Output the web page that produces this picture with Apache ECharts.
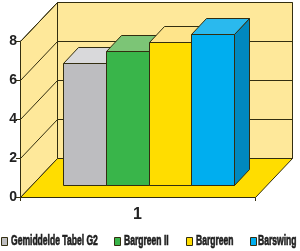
<!DOCTYPE html>
<html><head><meta charset="utf-8">
<script src="https://cdn.jsdelivr.net/npm/echarts@6/dist/echarts.min.js"></script>
<style>html,body{margin:0;padding:0;background:#fff}#c{width:300px;height:251px}</style>
</head><body><div id="c"></div>
<script>
const categories = ['1'];
const seriesNames = ['Gemiddelde Tabel G2', 'Bargreen II', 'Bargreen', 'Barswing'];
const gemiddeldeTabelG2 = [6.25];
const bargreenII = [6.85];
const bargreen = [7.3];
const barswing = [7.7];
const yTickValues = [0, 2, 4, 6, 8];

const seriesValues = [gemiddeldeTabelG2, bargreenII, bargreen, barswing];
const frontColors = ['#bdbdc0', '#39b54a', '#ffdd00', '#00aeef'];
const topColors = ['#d9d9db', '#7cc576', '#fee48a', '#2ab9ee'];
const sideColors = ['#a0a0a3', '#23904a', '#e0b800', '#0088bf'];
const edge = '#332e10';
const wallColor = '#fee89a';
const floorColor = '#ffdd00';
const DX = 37, DY = -39;       // full depth
const FX = 11.5, FY = -12;     // bar front plane
const BX = 15, BY = -16;       // bar depth
const BAR_FRAC = 0.182;

function p(v) { return Math.round(v - 0.5) + 0.5; }
function pt(x, y) { return [p(x), p(y)]; }

const chart = echarts.init(document.getElementById('c'), null, {renderer: 'canvas'});

function wallsRender(params, api) {
  const cs = params.coordSys;
  const x0 = cs.x, x1 = cs.x + cs.width;
  const yb = api.coord([categories[0], 0])[1];
  const yt = api.coord([categories[0], yTickValues[yTickValues.length - 1]])[1];
  const st = {stroke: edge, lineWidth: 1};
  const children = [
    {type: 'polygon', shape: {points: [pt(x0, yb), pt(x0 + DX, yb + DY), pt(x0 + DX, yt + DY), pt(x0, yt)]}, style: Object.assign({fill: wallColor}, st)},
    {type: 'polygon', shape: {points: [pt(x0 + DX, yt + DY), pt(x1 + DX, yt + DY), pt(x1 + DX, yb + DY), pt(x0 + DX, yb + DY)]}, style: Object.assign({fill: wallColor}, st)},
    {type: 'polygon', shape: {points: [pt(x0, yb), pt(x0 + DX, yb + DY), pt(x1 + DX, yb + DY), pt(x1, yb)]}, style: Object.assign({fill: floorColor}, st)}
  ];
  yTickValues.forEach(function (t) {
    if (t === 0) return;
    const y = api.coord([categories[0], t])[1];
    children.push({type: 'line', shape: {x1: p(x0), y1: p(y), x2: p(x0 + DX), y2: p(y + DY)}, style: st});
    children.push({type: 'line', shape: {x1: p(x0 + DX), y1: p(y + DY), x2: p(x1 + DX), y2: p(y + DY)}, style: st});
  });
  return {type: 'group', children: children};
}

function barRender(idx) {
  return function (params, api) {
    const base = api.coord([api.value(0), 0]);
    const top = api.coord([api.value(0), api.value(1)]);
    const band = api.size([1, 0])[0];
    const w = band * BAR_FRAC;
    const left = p(base[0] - 2 * w + idx * w + FX);
    const right = p(base[0] - 2 * w + (idx + 1) * w + FX);
    const yb = p(base[1] + FY), yt = p(top[1] + FY);
    const st = {stroke: edge, lineWidth: 1};
    return {type: 'group', children: [
      {type: 'polygon', shape: {points: [[right, yt], [right + BX, yt + BY], [right + BX, yb + BY], [right, yb]]}, style: Object.assign({fill: sideColors[idx]}, st)},
      {type: 'polygon', shape: {points: [[left, yt], [left + BX, yt + BY], [right + BX, yt + BY], [right, yt]]}, style: Object.assign({fill: topColors[idx]}, st)},
      {type: 'polygon', shape: {points: [[left, yt], [right, yt], [right, yb], [left, yb]]}, style: Object.assign({fill: frontColors[idx]}, st)}
    ]};
  };
}

const FONT = "'Liberation Sans', Arial, sans-serif";
const legendSwatchX = [1, 114, 186, 250];
const legendTextX = [11, 124, 196, 258];

const legendGraphics = [];
seriesNames.forEach(function (n, i) {
  legendGraphics.push({type: 'rect', shape: {x: legendSwatchX[i] + 0.5, y: 237.5, width: 6, height: 8},
    style: {fill: frontColors[i], stroke: edge, lineWidth: 1}});
  legendGraphics.push({type: 'text', x: legendTextX[i], y: 241, scaleX: 0.57,
    style: {text: n, fontSize: 15, fontWeight: 'bold', fontFamily: FONT, fill: '#1e1e1e',
      stroke: '#1e1e1e', lineWidth: 0.7, verticalAlign: 'middle', align: 'left'}});
});

const option = {
  animation: false,
  grid: {left: 20, right: 45, top: 41, bottom: 54},
  xAxis: {
    type: 'category', data: categories,
    axisLine: {show: false},
    axisTick: {show: true, length: 4, lineStyle: {color: edge}},
    axisLabel: {margin: 10, fontSize: 16, fontWeight: 'bold', color: '#222', fontFamily: FONT}
  },
  yAxis: {
    type: 'value', min: 0, max: 8, interval: 2,
    axisLine: {show: true, lineStyle: {color: edge}},
    axisTick: {show: true, length: 4, lineStyle: {color: edge}},
    splitLine: {show: false},
    axisLabel: {margin: 3, fontSize: 14, fontWeight: 'bold', color: '#222', fontFamily: FONT}
  },
  graphic: legendGraphics,
  series: [{
    type: 'custom', name: 'walls', z: 1, silent: true,
    data: [[categories[0], 0]],
    renderItem: wallsRender
  }].concat(seriesNames.map(function (n, i) {
    return {
      type: 'custom', name: n, z: 2 + i,
      itemStyle: {color: frontColors[i]},
      data: categories.map(function (c, k) { return [c, seriesValues[i][k]]; }),
      encode: {x: 0, y: 1},
      renderItem: barRender(i)
    };
  }))
};
chart.setOption(option);
</script>
</body></html>
